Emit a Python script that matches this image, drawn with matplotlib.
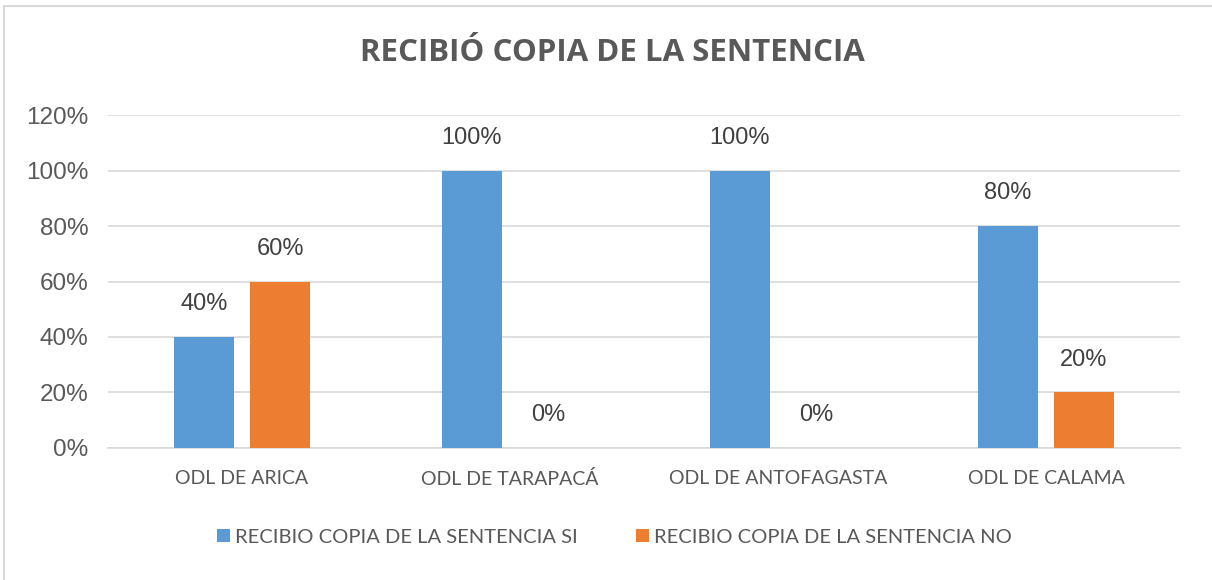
import numpy as np
import matplotlib
matplotlib.use("Agg")
import matplotlib.pyplot as plt
from matplotlib.patches import Rectangle
from matplotlib.ticker import PercentFormatter

categories = ["ODL DE ARICA", "ODL DE TARAPACÁ", "ODL DE ANTOFAGASTA", "ODL DE CALAMA"]
si_values = [0.40, 1.00, 1.00, 0.80]
no_values = [0.60, 0.00, 0.00, 0.20]
series_names = ["RECIBIO COPIA DE LA SENTENCIA SI", "RECIBIO COPIA DE LA SENTENCIA NO"]
title = "RECIBIÓ COPIA DE LA SENTENCIA"

BLUE = "#5B9BD5"
ORANGE = "#ED7D31"
GREY = "#595959"

fig = plt.figure(figsize=(12.12, 5.8), dpi=100)
# chart border (only top and left edges fall inside the picture)
fig.patches.append(Rectangle((0.0029, -0.1), 1.2, 1.0905, transform=fig.transFigure,
                             fill=False, edgecolor="#D9D9D9", linewidth=1.5))

ax = fig.add_axes([0.0891, 0.2276, 0.8845, 0.5741])

x = np.arange(len(categories))
width = 0.224
offset = 0.142
bars_si = ax.bar(x - offset, si_values, width, color=BLUE, label=series_names[0], zorder=3)
bars_no = ax.bar(x + offset, no_values, width, color=ORANGE, label=series_names[1], zorder=3)

# value labels above bars
for bars in (bars_si, bars_no):
    for b in bars:
        h = b.get_height()
        ax.text(b.get_x() + b.get_width() / 2, h + 0.118, f"{h * 100:.0f}%",
                ha="center", va="center", fontsize=17, color="#404040",
                family="Liberation Sans")

ax.set_xlim(-0.5, len(categories) - 0.5)
ax.set_ylim(0, 1.2)
ax.set_yticks(np.arange(0, 1.21, 0.2))
ax.yaxis.set_major_formatter(PercentFormatter(1.0, decimals=0))
ax.grid(axis="y", color="#D9D9D9", linewidth=1.2, zorder=0)
ax.set_xticks(x)
ax.set_xticklabels(categories, family="Lato", fontsize=14, color=GREY)
for lab in ax.get_yticklabels():
    lab.set_family("Liberation Sans")
    lab.set_fontsize(17.5)
    lab.set_color(GREY)
ax.tick_params(axis="both", length=0)
ax.tick_params(axis="x", pad=16)
ax.tick_params(axis="y", pad=14)
for side in ("top", "right", "left"):
    ax.spines[side].set_visible(False)
ax.spines["bottom"].set_color("#D9D9D9")
ax.spines["bottom"].set_linewidth(1.2)

fig.text(0.505, 0.908, title, ha="center", va="center", fontsize=22.5,
         fontweight="bold", color=GREY, family="Open Sans")

leg = fig.legend(handles=[bars_si, bars_no], labels=series_names, loc="center",
                 bbox_to_anchor=(0.507, 0.074), ncol=2, frameon=False,
                 prop={"family": "Lato", "size": 14.5}, handlelength=0.65,
                 handleheight=0.65, handletextpad=0.25, columnspacing=2.9)
for t in leg.get_texts():
    t.set_color(GREY)

fig.savefig("out.png", dpi=100)
